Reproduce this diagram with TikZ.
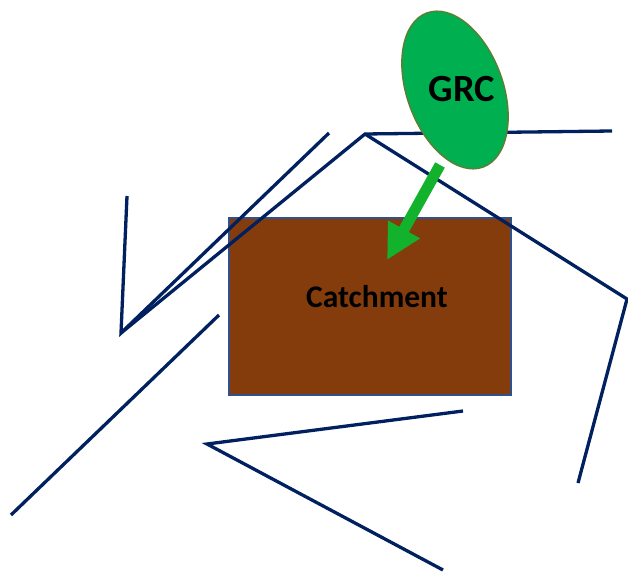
\documentclass[tikz,border=0pt]{standalone}
\usepackage{fontspec}
\setmainfont{Carlito}
\usetikzlibrary{arrows.meta}
\definecolor{navy}{HTML}{002060}
\definecolor{soil}{HTML}{843C0C}
\definecolor{rectedge}{HTML}{2F528F}
\definecolor{grcfill}{HTML}{00B050}
\definecolor{grcedge}{HTML}{5B7F35}
\definecolor{arrowgreen}{RGB}{18,178,44}
\tikzset{
  stroke/.style={draw=navy, line width=3.3pt, line join=miter},
  box/.style={draw=rectedge, line width=1.5pt, fill=soil, rectangle, inner sep=0pt},
  lbl/.style={font=\bfseries, text=black, inner sep=0pt},
  flow/.style={draw=arrowgreen, line width=11pt, -{Triangle[length=35pt,width=34pt]}}
}
\begin{document}
\begin{tikzpicture}[x=1pt,y=-1pt]
\useasboundingbox (0,0) rectangle (628,577);
% catchment rectangle
\node[box, minimum width=282pt, minimum height=177pt] (catch) at (370,306.5) {};
\node[lbl, font=\bfseries\fontsize{31.5}{34}\selectfont] (catchlbl) at (377,297) {Catchment};
% lines
\draw[stroke] (127,196) -- (121,333) -- (329,133);
\draw[stroke] (121,333) -- (365,134) -- (612,131);
\draw[stroke] (365,134) -- (627,299) -- (578,483);
\draw[stroke] (219,315) -- (11,515);
\draw[stroke] (463,411) -- (207,444) -- (443,570);
% GRC ellipse
\draw[draw=grcedge, line width=1.5pt, fill=grcfill, rotate around={20:(455,90)}] (455,90) ellipse [x radius=48, y radius=82];
\coordinate (grc) at (455,90);
\node[lbl, font=\bfseries\fontsize{38.5}{41}\selectfont] (grclbl) at (462,89) {GRC};
% arrow
\coordinate (a1) at (440,165);
\coordinate (a2) at (387,260);
\draw[flow] (a1) -- (a2);
\end{tikzpicture}
\end{document}
